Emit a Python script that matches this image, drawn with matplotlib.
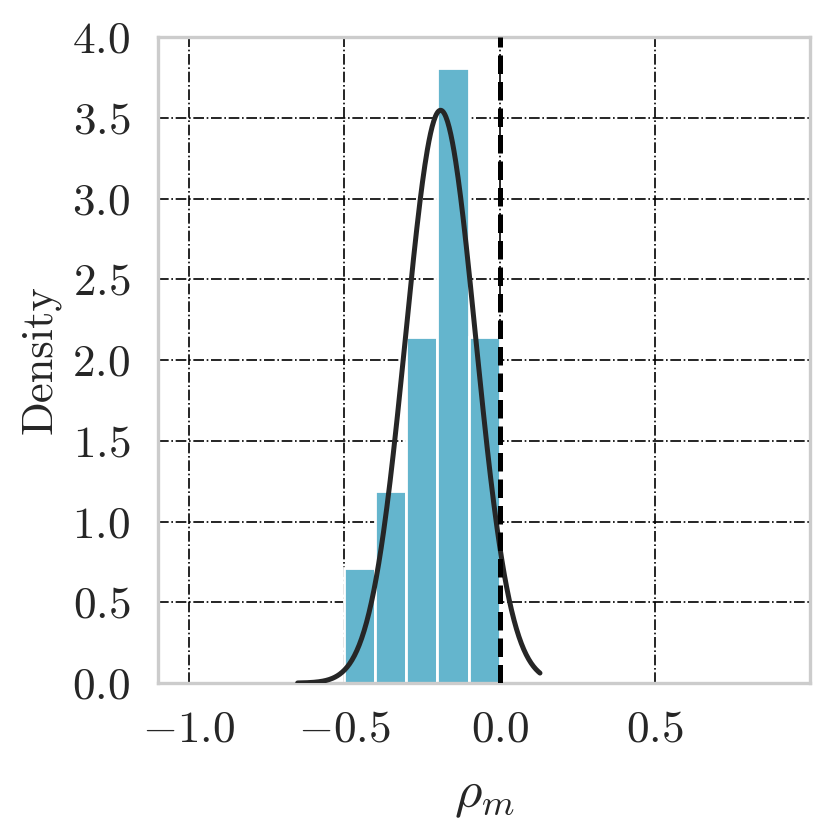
import numpy as np
import seaborn as sns
import matplotlib.pyplot as plt

# histogram of rho_m (density) and the fitted normal curve
bin_edges = [-0.5, -0.4, -0.3, -0.2, -0.1, 0.0]
densities = [0.714, 1.190, 2.143, 3.810, 2.143]
fit_mu = -0.19
fit_sd = 0.1125
fit_range = [-0.65, 0.13]
x_ticks = [-1.0, -0.5, 0.0, 0.5]
y_ticks = [0.0, 0.5, 1.0, 1.5, 2.0, 2.5, 3.0, 3.5, 4.0]

sns.set_theme(style='whitegrid')
plt.rcParams['font.family'] = 'serif'
plt.rcParams['font.serif'] = ['cmr10']
plt.rcParams['mathtext.fontset'] = 'cm'
plt.rcParams['axes.formatter.use_mathtext'] = True
plt.rcParams['axes.unicode_minus'] = True


def graph():
	fig = plt.figure(figsize=(4.155, 4.155), dpi=200)
	ax = fig.add_axes([0.19, 0.178, 0.785, 0.7775])

	widths = np.diff(bin_edges)
	ax.bar(bin_edges[:-1], densities, width=widths, align='edge',
		color='#64B5CD', edgecolor='white', linewidth=1.0, zorder=2)

	xs = np.linspace(fit_range[0], fit_range[1], 300)
	pdf = np.exp(-0.5 * ((xs - fit_mu) / fit_sd) ** 2) / (fit_sd * np.sqrt(2 * np.pi))
	ax.plot(xs, pdf, color='#262626', linewidth=1.8, zorder=3)

	ax.axvline(0.0, color='black', linestyle='--', linewidth=1.8, zorder=4)

	ax.set_xlim(-1.1, 1.0)
	ax.set_ylim(0, 4.0)
	ax.set_xticks(x_ticks)
	ax.set_yticks(y_ticks)
	ax.grid(True, color='black', linestyle='-.', linewidth=0.6, zorder=0)
	ax.set_axisbelow(True)
	for s in ax.spines.values():
		s.set_color('#cccccc')
		s.set_linewidth(1.2)
	ax.tick_params(labelsize=16.3, colors='#262626', pad=4)
	ax.set_xlabel(r'$\rho_m$', fontsize=19, color='#262626', labelpad=8)
	ax.set_ylabel('Density', fontsize=16, color='#262626')
	fig.savefig('out.png', dpi=200)


def main():
	graph()


if __name__ == '__main__':
	main()
